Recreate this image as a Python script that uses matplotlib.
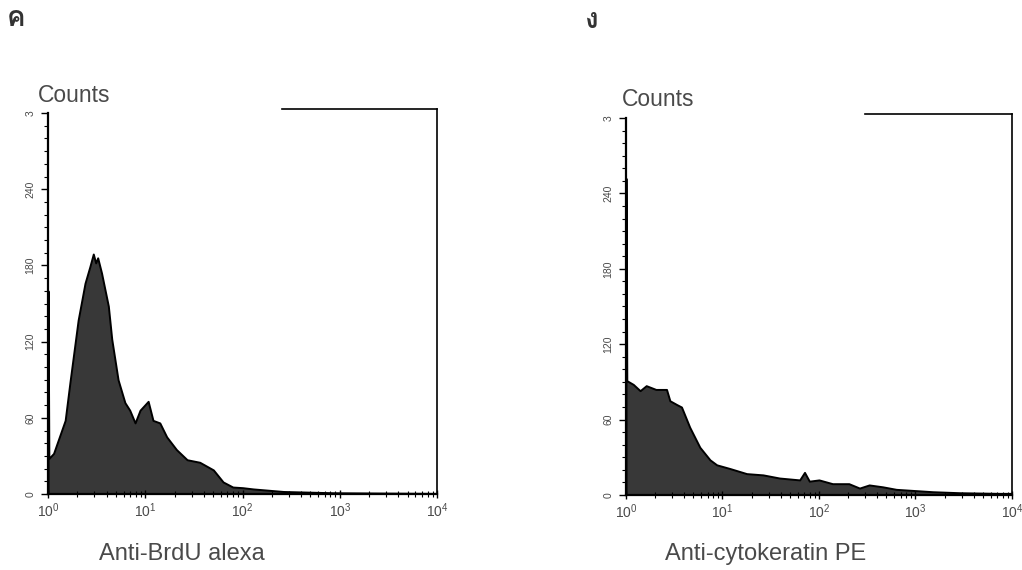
import matplotlib
matplotlib.use("Agg")
import matplotlib.pyplot as plt
from matplotlib import font_manager
from matplotlib.ft2font import FT2Font
from matplotlib.ticker import FixedLocator, MultipleLocator, LogLocator, NullFormatter

# --- data ---
brdu_x = [1.00, 1.02, 1.14, 1.50, 1.68, 2.04, 2.40, 2.69, 2.92, 3.09, 3.24, 3.55,
          4.17, 4.52, 5.25, 6.17, 6.92, 7.85, 8.83, 10.7, 12.0, 14.1, 16.6, 20.9,
          26.9, 36.3, 50.1, 63.1, 79.4, 100, 129, 263, 851, 9120, 10000]
brdu_counts = [160, 28, 32, 58, 88, 137, 166, 179, 189, 182, 186, 174,
               148, 122, 90, 72, 66, 56, 66, 73, 58, 56, 45, 35,
               27, 25, 19, 9.5, 5.5, 5, 4, 2, 1, 0.5, 0.5]

ck_x = [1.00, 1.02, 1.19, 1.40, 1.62, 2.04, 2.63, 2.85, 3.35, 3.76, 4.57, 5.82,
        7.41, 8.71, 12.0, 17.8, 26.3, 38.9, 63.1, 70.8, 79.4, 100, 138, 204,
        263, 331, 457, 631, 794, 1510, 2880, 7410, 10000]
ck_counts = [252, 91, 88, 83, 87, 84, 84, 75, 72, 70, 54, 38,
             28, 24, 21, 17, 16, 13.5, 12, 18, 11, 12, 9, 9,
             5.5, 8, 6.5, 4.5, 4, 2.6, 1.8, 1.3, 1.3]

panel_letters = ["\u0e04", "\u0e07"]
x_labels = ["Anti-BrdU alexa", "Anti-cytokeratin PE"]
y_ticks = [0, 60, 120, 180, 240, 300]
y_ticklabels = ["0", "60", "120", "180", "240", "3"]
x_ticks = [1, 10, 100, 1000, 10000]
x_ticklabels = ["$10^0$", "$10^1$", "$10^2$", "$10^3$", "$10^4$"]


def find_thai_font():
    for f in font_manager.fontManager.ttflist:
        try:
            if 0x0E04 in FT2Font(f.fname).get_charmap():
                return f.name
        except Exception:
            continue
    return "DejaVu Sans"


plt.rcParams["font.family"] = ["Liberation Sans", "DejaVu Sans"]
plt.rcParams["mathtext.default"] = "regular"
grey = "#4a4a4a"

fig = plt.figure(figsize=(10.22, 5.7), dpi=100)
ax1 = fig.add_axes([0.047, 0.1333, 0.3806, 0.6684])
ax2 = fig.add_axes([0.6125, 0.1316, 0.3777, 0.6614])

panels = [(ax1, brdu_x, brdu_counts, 2.41), (ax2, ck_x, ck_counts, 2.48)]
for ax, xs, ys, gate_start in panels:
    ax.fill_between(xs, ys, 0, facecolor="#383838", edgecolor="black", lw=1.4)
    ax.set_xscale("log")
    ax.set_xlim(1, 10000)
    ax.set_ylim(0, 300)
    for side in ["top", "right"]:
        ax.spines[side].set_visible(False)
    for side in ["left", "bottom"]:
        ax.spines[side].set_linewidth(1.6)
    ax.set_yticks(y_ticks)
    ax.set_yticklabels(y_ticklabels, rotation=90, va="center", fontsize=7.5, color=grey)
    ax.yaxis.set_minor_locator(MultipleLocator(10))
    ax.tick_params(axis="y", which="major", direction="out", length=5, width=1, pad=4)
    ax.tick_params(axis="y", which="minor", direction="out", length=3, width=0.8)
    ax.xaxis.set_major_locator(FixedLocator(x_ticks))
    ax.set_xticklabels(x_ticklabels, fontsize=10, color=grey)
    ax.xaxis.set_minor_locator(LogLocator(base=10, subs=range(2, 10)))
    ax.xaxis.set_minor_formatter(NullFormatter())
    ax.tick_params(axis="x", which="major", direction="inout", length=6, width=1, pad=2)
    ax.tick_params(axis="x", which="minor", direction="inout", length=4, width=0.8)
    # gate marker: right edge and partial top line
    ax.plot([1, 1], [0, 1.01], transform=ax.transAxes, color="black", lw=1.2, clip_on=False)
    ax.plot([gate_start / 4.0, 1], [1.01, 1.01], transform=ax.transAxes,
            color="black", lw=1.2, clip_on=False)

fig.text(38 / 1022, 1 - 95 / 570, "Counts", fontsize=16.5, color=grey, va="center")
fig.text(622 / 1022, 1 - 99 / 570, "Counts", fontsize=16.5, color=grey, va="center")
fig.text(182 / 1022, 1 - 554 / 570, x_labels[0], fontsize=17, color=grey, ha="center", va="center")
fig.text(766 / 1022, 1 - 554 / 570, x_labels[1], fontsize=17, color=grey, ha="center", va="center")

thai = find_thai_font()
fig.text(16 / 1022, 1 - 19 / 570, panel_letters[0], fontsize=20, color="#333333",
         ha="center", va="center", weight="bold", family=[thai, "DejaVu Sans"])
fig.text(592 / 1022, 1 - 20 / 570, panel_letters[1], fontsize=20, color="#333333",
         ha="center", va="center", weight="bold", family=[thai, "DejaVu Sans"])

fig.savefig("out.png", dpi=100)
